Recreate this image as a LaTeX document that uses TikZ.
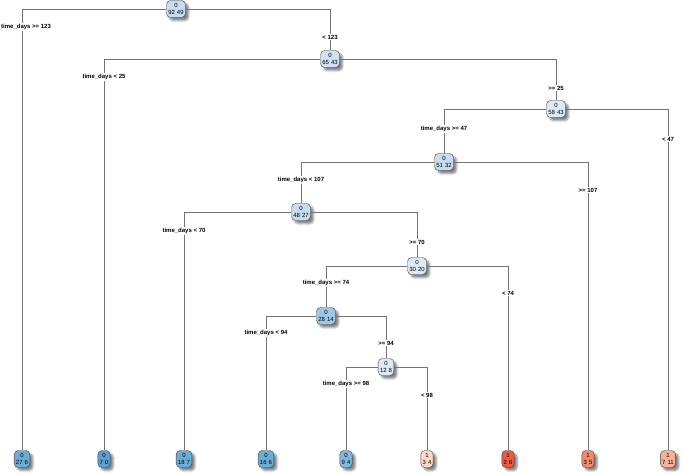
\documentclass[tikz,border=0pt]{standalone}
\usepackage{fontspec}
\setmainfont{Liberation Sans}
\usetikzlibrary{shadows.blur}
\definecolor{bA}{HTML}{C6DCF0}
\definecolor{bB}{HTML}{CFE2F3}
\definecolor{bC}{HTML}{DCEAF6}
\definecolor{bD}{HTML}{9CC8E6}
\definecolor{bE}{HTML}{6AAED8}
\definecolor{bF}{HTML}{5AA2D6}
\definecolor{bG}{HTML}{80BAE0}
\definecolor{rA}{HTML}{FCD8C6}
\definecolor{rB}{HTML}{EE5A3C}
\definecolor{rC}{HTML}{F4886A}
\definecolor{rD}{HTML}{F9B195}

\begin{document}
\begin{tikzpicture}[x=1pt,y=-1pt]
\tikzset{edge/.style = {draw=black!55, line width=0.7pt}}
\tikzset{box/.style = {draw=black!75, line width=0.4pt, rounded corners=4pt, align=center,
  inner xsep=1.8pt, inner ysep=1.5pt, minimum height=17pt, font=\fontsize{6}{7}\selectfont,
  blur shadow={shadow xshift=3pt, shadow yshift=-3pt, shadow opacity=50}}}
\tikzset{split/.style = {fill=white, inner sep=1pt, font=\fontsize{6}{7}\selectfont\bfseries}}
\useasboundingbox (0,0) rectangle (685,473);
\node [box, fill=bA] at (176,9) (A) {0\\92\,\,49};
\node [box, fill=bB] at (330,59) (B) {0\\65\,\,43};
\node [box, fill=bC] at (556,109) (C) {0\\58\,\,43};
\node [box, fill=bA] at (444,162) (D) {0\\51\,\,32};
\node [box, fill=bA] at (301,212) (E) {0\\48\,\,27};
\node [box, fill=bC] at (417,266) (F) {0\\30\,\,20};
\node [box, fill=bD] at (326,316) (G) {0\\28\,\,14};
\node [box, fill=bC] at (386,367) (H) {0\\12\,\,8};
\node [box, fill=bE] at (22,459) (L1) {0\\27\,\,6};
\node [box, fill=bF] at (104,459) (L2) {0\\7\,\,0};
\node [box, fill=bE] at (184,459) (L3) {0\\18\,\,7};
\node [box, fill=bE] at (266,459) (L4) {0\\16\,\,6};
\node [box, fill=bG] at (346,459) (L5) {0\\9\,\,4};
\node [box, fill=rA] at (427,459) (L6) {1\\3\,\,4};
\node [box, fill=rB] at (508,459) (L7) {1\\2\,\,6};
\node [box, fill=rC] at (588,459) (L8) {1\\3\,\,5};
\node [box, fill=rD] at (668,459) (L9) {1\\7\,\,11};
\draw [edge] (A) -| (L1);
\draw [edge] (A) -| (B);
\draw [edge] (B) -| (L2);
\draw [edge] (B) -| (C);
\draw [edge] (C) -| (D);
\draw [edge] (C) -| (L9);
\draw [edge] (D) -| (E);
\draw [edge] (D) -| (L8);
\draw [edge] (E) -| (L3);
\draw [edge] (E) -| (F);
\draw [edge] (F) -| (G);
\draw [edge] (F) -| (L7);
\draw [edge] (G) -| (L4);
\draw [edge] (G) -| (H);
\draw [edge] (H) -| (L5);
\draw [edge] (H) -| (L6);
\node [split, anchor=west] at (0,27) (s1) {time\_days >= 123};
\node [split] at (330,37) (s2) {< 123};
\node [split] at (104,77) (s3) {time\_days < 25};
\node [split] at (556,88) (s4) {>= 25};
\node [split] at (444,129) (s5) {time\_days >= 47};
\node [split] at (668,139) (s6) {< 47};
\node [split] at (301,180) (s7) {time\_days < 107};
\node [split] at (588,190) (s8) {>= 107};
\node [split] at (184,231) (s9) {time\_days < 70};
\node [split] at (417,242) (s10) {>= 70};
\node [split] at (326,283) (s11) {time\_days >= 74};
\node [split] at (508,293) (s12) {< 74};
\node [split] at (266,333) (s13) {time\_days < 94};
\node [split] at (386,343) (s14) {>= 94};
\node [split] at (346,384) (s15) {time\_days >= 98};
\node [split] at (427,395) (s16) {< 98};
\end{tikzpicture}
\end{document}
